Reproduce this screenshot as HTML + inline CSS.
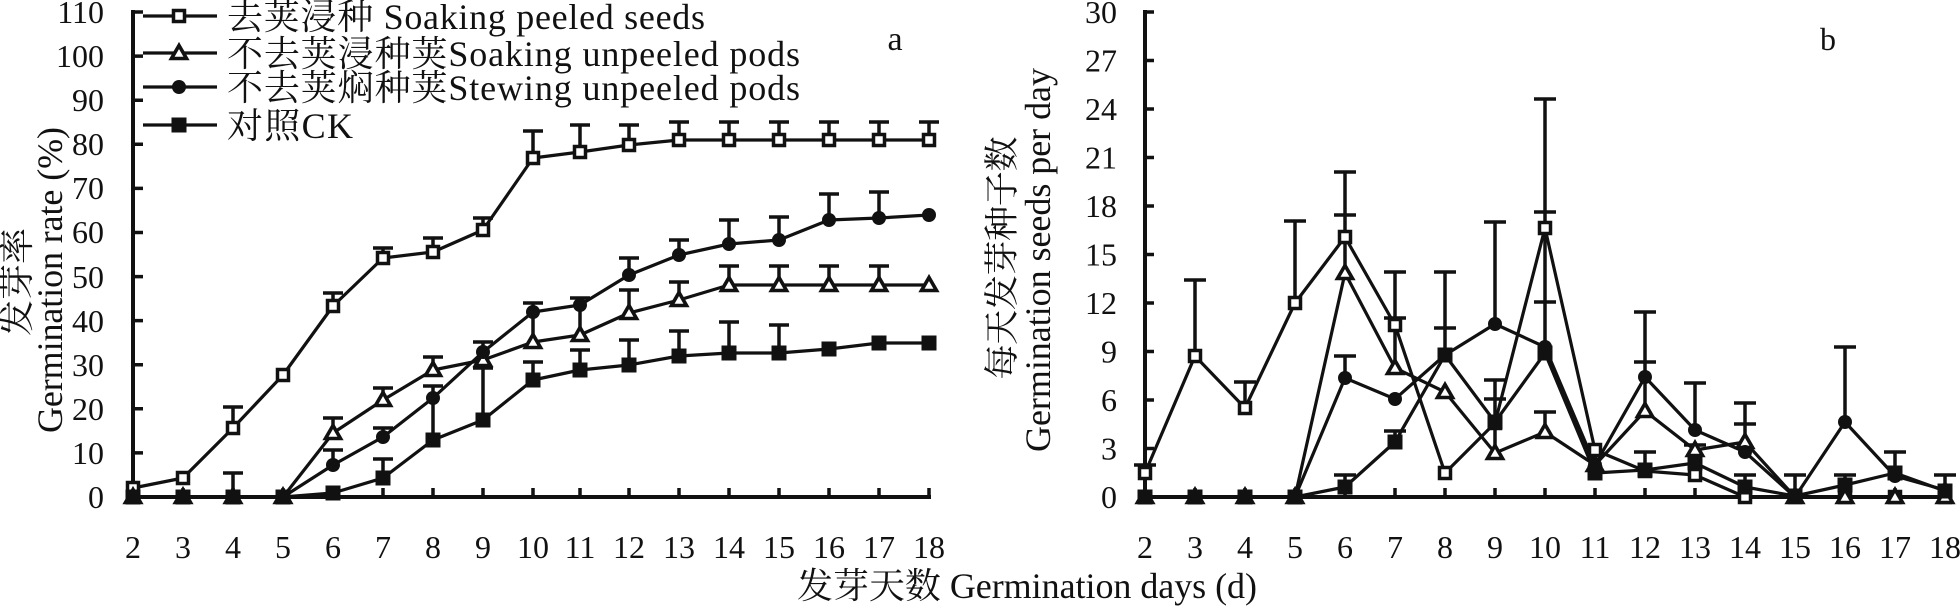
<!DOCTYPE html>
<html>
<head>
<meta charset="utf-8">
<style>
html,body{margin:0;padding:0;background:#fff;}
svg{display:block;}
text{font-family:"Liberation Serif","Noto Serif CJK SC",serif;fill:#111;}
</style>
</head>
<body>
<svg width="1960" height="609" viewBox="0 0 1960 609" xmlns="http://www.w3.org/2000/svg" font-family="'Liberation Serif','Noto Serif CJK SC',serif">
<defs>
<rect id="os" x="-5.5" y="-5.5" width="11" height="11" fill="#fff" stroke="#111" stroke-width="3.5"/>
<polygon id="tr" points="0,-7.5 -7.5,5.5 7.5,5.5" fill="#fff" stroke="#111" stroke-width="3.6" stroke-linejoin="miter"/>
<circle id="ci" r="7" fill="#111"/>
<rect id="sq" x="-7.5" y="-7.5" width="15" height="15" fill="#111"/>
</defs>
<rect width="1960" height="609" fill="#fff"/>

<!-- ================= PANEL A ================= -->
<g stroke="#111" stroke-width="4" fill="none">
<path d="M133 10V499M131 497H931"/>
<path stroke-width="3.5" d="M133 12H143M133 56.1H143M133 100.2H143M133 144.3H143M133 188.4H143M133 232.5H143M133 276.6H143M133 320.6H143M133 364.7H143M133 408.8H143M133 452.9H143
M183 497V488M233 497V488M283 497V488M333 497V488M383 497V488M433 497V488M483 497V488M533 497V488M580 497V488M629 497V488M679 497V488M729 497V488M779 497V488M829 497V488M879 497V488M929 497V488"/>
</g>
<g font-size="32" text-anchor="end">
<text x="104" y="23">110</text>
<text x="104" y="67">100</text>
<text x="104" y="111">90</text>
<text x="104" y="155">80</text>
<text x="104" y="199">70</text>
<text x="104" y="243">60</text>
<text x="104" y="288">50</text>
<text x="104" y="332">40</text>
<text x="104" y="376">30</text>
<text x="104" y="420">20</text>
<text x="104" y="464">10</text>
<text x="104" y="508">0</text>
</g>
<g font-size="32" text-anchor="middle">
<text x="133" y="558">2</text><text x="183" y="558">3</text><text x="233" y="558">4</text><text x="283" y="558">5</text><text x="333" y="558">6</text><text x="383" y="558">7</text><text x="433" y="558">8</text><text x="483" y="558">9</text><text x="533" y="558">10</text><text x="580" y="558">11</text><text x="629" y="558">12</text><text x="679" y="558">13</text><text x="729" y="558">14</text><text x="779" y="558">15</text><text x="829" y="558">16</text><text x="879" y="558">17</text><text x="929" y="558">18</text>
</g>

<!-- error bars A -->
<path fill="none" stroke="#111" stroke-width="3.5" d="
M233 428V407M223 407h20M333 306V293M323 293h20M383 258V248M373 248h20M433 252V238M423 238h20M483 230V218M473 218h20M533 158V131M523 131h20M580 152V125M570 125h20M629 145V125M619 125h20M679 140V122M669 122h20M729 140V122M719 122h20M779 140V122M769 122h20M829 140V122M819 122h20M879 140V122M869 122h20M929 140V122M919 122h20
M333 433V418M323 418h20M383 400V388M373 388h20M433 370V357M423 357h20M533 342V305M580 335V300M629 313V290M619 290h20M679 300V282M669 282h20M729 285V266M719 266h20M779 285V266M769 266h20M829 285V266M819 266h20M879 285V266M869 266h20
M333 465V450M323 450h20M383 437V428M373 428h20M433 398V386M423 386h20M483 352V342M473 342h20M533 312V303M523 303h20M580 305V298M570 298h20M629 275V258M619 258h20M679 255V240M669 240h20M729 244V220M719 220h20M779 240V217M769 217h20M829 220V194M819 194h20M879 218V192M869 192h20
M233 497V473M223 473h20M383 478V459M373 459h20M433 440V400M483 420V368M473 368h20M533 380V362M523 362h20M580 370V350M570 350h20M629 365V340M619 340h20M679 356V331M669 331h20M729 353V322M719 322h20M779 353V325M769 325h20"/>

<!-- lines A -->
<g fill="none" stroke="#111" stroke-width="3.2" stroke-linejoin="round">
<polyline points="133,488 183,478 233,428 283,375 333,306 383,258 433,252 483,230 533,158 580,152 629,145 679,140 729,140 779,140 829,140 879,140 929,140"/>
<polyline points="133,497 183,497 233,497 283,497 333,433 383,400 433,370 483,360 533,342 580,335 629,313 679,300 729,285 779,285 829,285 879,285 929,285"/>
<polyline points="133,497 183,497 233,497 283,497 333,465 383,437 433,398 483,352 533,312 580,305 629,275 679,255 729,244 779,240 829,220 879,218 929,215"/>
<polyline points="133,497 183,497 233,497 283,497 333,493 383,478 433,440 483,420 533,380 580,370 629,365 679,356 729,353 779,353 829,349 879,343 929,343"/>
</g>

<!-- markers A -->
<g>
<use href="#os" x="133" y="488"/><use href="#os" x="183" y="478"/><use href="#os" x="233" y="428"/><use href="#os" x="283" y="375"/><use href="#os" x="333" y="306"/><use href="#os" x="383" y="258"/><use href="#os" x="433" y="252"/><use href="#os" x="483" y="230"/><use href="#os" x="533" y="158"/><use href="#os" x="580" y="152"/><use href="#os" x="629" y="145"/><use href="#os" x="679" y="140"/><use href="#os" x="729" y="140"/><use href="#os" x="779" y="140"/><use href="#os" x="829" y="140"/><use href="#os" x="879" y="140"/><use href="#os" x="929" y="140"/>
<use href="#tr" x="133" y="497"/><use href="#tr" x="183" y="497"/><use href="#tr" x="233" y="497"/><use href="#tr" x="283" y="497"/><use href="#tr" x="333" y="433"/><use href="#tr" x="383" y="400"/><use href="#tr" x="433" y="370"/><use href="#tr" x="483" y="360"/><use href="#tr" x="533" y="342"/><use href="#tr" x="580" y="335"/><use href="#tr" x="629" y="313"/><use href="#tr" x="679" y="300"/><use href="#tr" x="729" y="285"/><use href="#tr" x="779" y="285"/><use href="#tr" x="829" y="285"/><use href="#tr" x="879" y="285"/><use href="#tr" x="929" y="285"/>
<use href="#ci" x="133" y="497"/><use href="#ci" x="183" y="497"/><use href="#ci" x="233" y="497"/><use href="#ci" x="283" y="497"/><use href="#ci" x="333" y="465"/><use href="#ci" x="383" y="437"/><use href="#ci" x="433" y="398"/><use href="#ci" x="483" y="352"/><use href="#ci" x="533" y="312"/><use href="#ci" x="580" y="305"/><use href="#ci" x="629" y="275"/><use href="#ci" x="679" y="255"/><use href="#ci" x="729" y="244"/><use href="#ci" x="779" y="240"/><use href="#ci" x="829" y="220"/><use href="#ci" x="879" y="218"/><use href="#ci" x="929" y="215"/>
<use href="#sq" x="133" y="497"/><use href="#sq" x="183" y="497"/><use href="#sq" x="233" y="497"/><use href="#sq" x="283" y="497"/><use href="#sq" x="333" y="493"/><use href="#sq" x="383" y="478"/><use href="#sq" x="433" y="440"/><use href="#sq" x="483" y="420"/><use href="#sq" x="533" y="380"/><use href="#sq" x="580" y="370"/><use href="#sq" x="629" y="365"/><use href="#sq" x="679" y="356"/><use href="#sq" x="729" y="353"/><use href="#sq" x="779" y="353"/><use href="#sq" x="829" y="349"/><use href="#sq" x="879" y="343"/><use href="#sq" x="929" y="343"/>
</g>

<!-- legend -->
<g fill="none" stroke="#111" stroke-width="3.2">
<path d="M143 16H217M143 53H217M143 87H217M143 125H217"/>
</g>
<use href="#os" x="179" y="16"/>
<use href="#tr" x="179" y="53"/>
<use href="#ci" x="179" y="87"/>
<use href="#sq" x="179" y="125"/>
<g font-size="36">
<text x="227" y="29" textLength="478">去荚浸种 Soaking peeled seeds</text>
<text x="227" y="66" textLength="573">不去荚浸种荚Soaking unpeeled pods</text>
<text x="227" y="100" textLength="573">不去荚焖种荚Stewing unpeeled pods</text>
<text x="227" y="138" textLength="126">对照CK</text>
</g>
<text x="895" y="50" font-size="34" text-anchor="middle">a</text>

<!-- y labels A -->
<text font-size="36" text-anchor="middle" transform="translate(29,282) rotate(-90)">发芽率</text>
<text font-size="36" text-anchor="middle" textLength="306" transform="translate(62,280) rotate(-90)">Germination rate (%)</text>

<!-- ================= PANEL B ================= -->
<g stroke="#111" stroke-width="4" fill="none">
<path d="M1145 10V499M1143 497H1947"/>
<path stroke-width="3.5" d="M1145 12H1154M1145 60.5H1154M1145 109H1154M1145 157.5H1154M1145 206H1154M1145 254.5H1154M1145 303H1154M1145 351.5H1154M1145 400H1154M1145 448.5H1154
M1195 497V488M1245 497V488M1295 497V488M1345 497V488M1395 497V488M1445 497V488M1495 497V488M1545 497V488M1595 497V488M1645 497V488M1695 497V488M1745 497V488M1795 497V488M1845 497V488M1895 497V488M1945 497V488"/>
</g>
<g font-size="32" text-anchor="end">
<text x="1117" y="23">30</text>
<text x="1117" y="71.5">27</text>
<text x="1117" y="120">24</text>
<text x="1117" y="168.5">21</text>
<text x="1117" y="217">18</text>
<text x="1117" y="265.5">15</text>
<text x="1117" y="314">12</text>
<text x="1117" y="362.5">9</text>
<text x="1117" y="411">6</text>
<text x="1117" y="459.5">3</text>
<text x="1117" y="508">0</text>
</g>
<g font-size="32" text-anchor="middle">
<text x="1145" y="558">2</text><text x="1195" y="558">3</text><text x="1245" y="558">4</text><text x="1295" y="558">5</text><text x="1345" y="558">6</text><text x="1395" y="558">7</text><text x="1445" y="558">8</text><text x="1495" y="558">9</text><text x="1545" y="558">10</text><text x="1595" y="558">11</text><text x="1645" y="558">12</text><text x="1695" y="558">13</text><text x="1745" y="558">14</text><text x="1795" y="558">15</text><text x="1845" y="558">16</text><text x="1895" y="558">17</text><text x="1945" y="558">18</text>
</g>

<!-- error bars B -->
<path fill="none" stroke="#111" stroke-width="3.5" d="
M1145 473V465M1134 465h22M1195 356V280M1184 280h22M1245 408V382M1234 382h22M1295 303V221M1284 221h22M1345 237V172M1334 172h22M1395 325V272M1384 272h22M1545 228V99M1534 99h22
M1345 273V215M1334 215h22M1395 368V318M1384 318h22M1495 453V399M1484 399h22M1545 432V412M1534 412h22M1645 411V362M1634 362h22M1745 442V424M1734 424h22
M1345 378V356M1334 356h22M1445 355V272M1434 272h22M1495 324V222M1484 222h22M1545 347V302M1534 302h22M1645 377V312M1634 312h22M1695 430V383M1684 383h22M1745 452V403M1734 403h22M1845 422V347M1834 347h22M1945 490V475M1934 475h22
M1345 487V475M1334 475h22M1395 442V431M1384 431h22M1445 355V328M1434 328h22M1495 422V380M1484 380h22M1545 353V212M1534 212h22M1645 470V452M1634 452h22M1695 463V445M1684 445h22M1745 487V475M1734 475h22M1795 496V475M1784 475h22M1845 485V475M1834 475h22M1895 473V452M1884 452h22"/>

<!-- lines B -->
<g fill="none" stroke="#111" stroke-width="3.2" stroke-linejoin="round">
<polyline points="1145,473 1195,356 1245,408 1295,303 1345,237 1395,325 1445,473 1495,423 1545,228 1595,450 1645,471 1695,475 1745,497 1795,497 1845,497 1895,497 1945,497"/>
<polyline points="1145,497 1195,497 1245,497 1295,497 1345,273 1395,368 1445,392 1495,453 1545,432 1595,465 1645,411 1695,450 1745,442 1795,497 1845,497 1895,497 1945,497"/>
<polyline points="1145,497 1195,497 1245,497 1295,497 1345,378 1395,399 1445,355 1495,324 1545,347 1595,465 1645,377 1695,430 1745,452 1795,497 1845,422 1895,476 1945,490"/>
<polyline points="1145,497 1195,497 1245,497 1295,497 1345,487 1395,442 1445,355 1495,422 1545,353 1595,473 1645,470 1695,463 1745,487 1795,496 1845,485 1895,473 1945,491"/>
</g>

<!-- markers B -->
<g>
<use href="#os" x="1145" y="473"/><use href="#os" x="1195" y="356"/><use href="#os" x="1245" y="408"/><use href="#os" x="1295" y="303"/><use href="#os" x="1345" y="237"/><use href="#os" x="1395" y="325"/><use href="#os" x="1445" y="473"/><use href="#os" x="1495" y="423"/><use href="#os" x="1545" y="228"/><use href="#os" x="1595" y="450"/><use href="#os" x="1645" y="471"/><use href="#os" x="1695" y="475"/><use href="#os" x="1745" y="497"/><use href="#os" x="1795" y="497"/><use href="#os" x="1845" y="497"/><use href="#os" x="1895" y="497"/><use href="#os" x="1945" y="497"/>
<use href="#tr" x="1145" y="497"/><use href="#tr" x="1195" y="497"/><use href="#tr" x="1245" y="497"/><use href="#tr" x="1295" y="497"/><use href="#tr" x="1345" y="273"/><use href="#tr" x="1395" y="368"/><use href="#tr" x="1445" y="392"/><use href="#tr" x="1495" y="453"/><use href="#tr" x="1545" y="432"/><use href="#tr" x="1595" y="465"/><use href="#tr" x="1645" y="411"/><use href="#tr" x="1695" y="450"/><use href="#tr" x="1745" y="442"/><use href="#tr" x="1795" y="497"/><use href="#tr" x="1845" y="497"/><use href="#tr" x="1895" y="497"/><use href="#tr" x="1945" y="497"/>
<use href="#ci" x="1145" y="497"/><use href="#ci" x="1195" y="497"/><use href="#ci" x="1245" y="497"/><use href="#ci" x="1295" y="497"/><use href="#ci" x="1345" y="378"/><use href="#ci" x="1395" y="399"/><use href="#ci" x="1445" y="355"/><use href="#ci" x="1495" y="324"/><use href="#ci" x="1545" y="347"/><use href="#ci" x="1595" y="465"/><use href="#ci" x="1645" y="377"/><use href="#ci" x="1695" y="430"/><use href="#ci" x="1745" y="452"/><use href="#ci" x="1795" y="497"/><use href="#ci" x="1845" y="422"/><use href="#ci" x="1895" y="476"/><use href="#ci" x="1945" y="490"/>
<use href="#sq" x="1145" y="497"/><use href="#sq" x="1195" y="497"/><use href="#sq" x="1245" y="497"/><use href="#sq" x="1295" y="497"/><use href="#sq" x="1345" y="487"/><use href="#sq" x="1395" y="442"/><use href="#sq" x="1445" y="355"/><use href="#sq" x="1495" y="422"/><use href="#sq" x="1545" y="353"/><use href="#sq" x="1595" y="473"/><use href="#sq" x="1645" y="470"/><use href="#sq" x="1695" y="463"/><use href="#sq" x="1745" y="487"/><use href="#sq" x="1795" y="496"/><use href="#sq" x="1845" y="485"/><use href="#sq" x="1895" y="473"/><use href="#sq" x="1945" y="491"/>
</g>

<text x="1828" y="50" font-size="32" text-anchor="middle">b</text>

<!-- y labels B -->
<text font-size="35" text-anchor="middle" textLength="243" transform="translate(1014,258) rotate(-90)">每天发芽种子数</text>
<text font-size="36" text-anchor="middle" textLength="384" transform="translate(1050,260) rotate(-90)">Germination seeds per day</text>

<!-- x axis label -->
<text x="797" y="598" font-size="36" textLength="460">发芽天数 Germination days (d)</text>
</svg>
</body>
</html>
